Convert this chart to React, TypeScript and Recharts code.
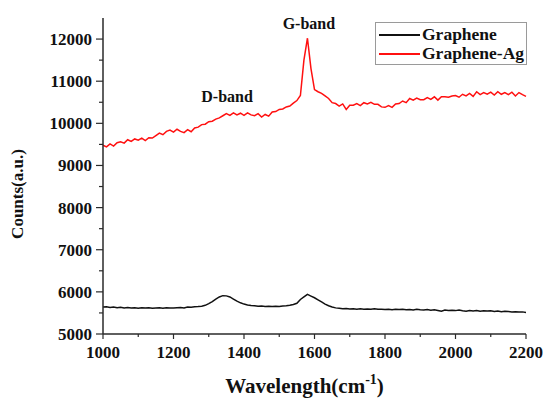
import React from "react";
import { LineChart, Line, XAxis, YAxis, Legend, ReferenceDot } from "recharts";

// Raman shift (cm-1), sampled every 10
const wavenumber = [
  1000, 1010, 1020, 1030, 1040, 1050, 1060, 1070, 1080, 1090,
  1100, 1110, 1120, 1130, 1140, 1150, 1160, 1170, 1180, 1190,
  1200, 1210, 1220, 1230, 1240, 1250, 1260, 1270, 1280, 1290,
  1300, 1310, 1320, 1330, 1340, 1350, 1360, 1370, 1380, 1390,
  1400, 1410, 1420, 1430, 1440, 1450, 1460, 1470, 1480, 1490,
  1500, 1510, 1520, 1530, 1540, 1550, 1560, 1570, 1580, 1590,
  1600, 1610, 1620, 1630, 1640, 1650, 1660, 1670, 1680, 1690,
  1700, 1710, 1720, 1730, 1740, 1750, 1760, 1770, 1780, 1790,
  1800, 1810, 1820, 1830, 1840, 1850, 1860, 1870, 1880, 1890,
  1900, 1910, 1920, 1930, 1940, 1950, 1960, 1970, 1980, 1990,
  2000, 2010, 2020, 2030, 2040, 2050, 2060, 2070, 2080, 2090,
  2100, 2110, 2120, 2130, 2140, 2150, 2160, 2170, 2180, 2190,
  2200,
];

const graphene = [
  5640, 5645, 5630, 5640, 5625, 5635, 5620, 5630, 5615, 5625,
  5610, 5625, 5615, 5620, 5610, 5615, 5620, 5610, 5625, 5620,
  5615, 5625, 5630, 5620, 5640, 5635, 5645, 5650, 5660, 5680,
  5720, 5770, 5830, 5880, 5910, 5905, 5880, 5830, 5780, 5740,
  5710, 5690, 5675, 5670, 5660, 5665, 5655, 5660, 5650, 5660,
  5655, 5665, 5670, 5680, 5700, 5730, 5820, 5880, 5940, 5900,
  5860, 5810, 5760, 5710, 5670, 5640, 5620, 5610, 5600, 5605,
  5595, 5600, 5590, 5600, 5590, 5595, 5585, 5600, 5585, 5590,
  5580, 5590, 5575, 5585, 5580, 5590, 5575, 5580, 5570, 5585,
  5575, 5570, 5580, 5565, 5575, 5560, 5540, 5570, 5560, 5565,
  5555, 5570, 5550, 5540, 5560, 5545, 5555, 5540, 5550, 5545,
  5550, 5535, 5545, 5530, 5540, 5535, 5525, 5530, 5520, 5525,
  5510,
];

const grapheneAg = [
  9480, 9440, 9510, 9460, 9540, 9560, 9530, 9610, 9570, 9630,
  9600, 9650, 9590, 9660, 9650, 9710, 9770, 9730, 9810, 9840,
  9790, 9860, 9810, 9780, 9850, 9800, 9890, 9910, 9970, 9980,
  10040, 10050, 10100, 10130, 10180, 10230, 10190, 10250, 10200, 10240,
  10190, 10250, 10200, 10180, 10230, 10150, 10210, 10170, 10270, 10280,
  10330, 10340, 10390, 10410, 10480, 10540, 10660, 11500, 12020, 11300,
  10800, 10750, 10710, 10650, 10590, 10490, 10470, 10410, 10460, 10330,
  10430, 10430, 10470, 10420, 10490, 10460, 10500, 10450, 10450, 10390,
  10380, 10420, 10380, 10460, 10470, 10530, 10490, 10590, 10550, 10600,
  10560, 10560, 10610, 10570, 10630, 10550, 10630, 10630, 10620, 10650,
  10660, 10620, 10690, 10650, 10710, 10640, 10750, 10680, 10730, 10690,
  10740, 10670, 10750, 10690, 10730, 10680, 10740, 10650, 10730, 10680,
  10640,
];

const xTicks = [1000, 1100, 1200, 1300, 1400, 1500, 1600, 1700, 1800, 1900, 2000, 2100, 2200];
const yTicks = [5000, 5500, 6000, 6500, 7000, 7500, 8000, 8500, 9000, 9500, 10000, 10500, 11000, 11500, 12000];

const data = wavenumber.map((w, i) => ({
  w,
  graphene: graphene[i],
  grapheneAg: grapheneAg[i],
}));

const FONT = "'Liberation Serif', 'Times New Roman', serif";
const AXIS = "#2a2a2a";
const txt = { fontFamily: FONT, fontWeight: 700 } as React.CSSProperties;

function XTick(props: any) {
  const { x, y, payload } = props;
  const major = payload.value % 200 === 0;
  return (
    <g>
      <line x1={x} x2={x} y1={y} y2={y + (major ? 5 : 3)} stroke={AXIS} strokeWidth={1.2} />
      {major && (
        <text x={x} y={y + 24} textAnchor="middle" style={{ ...txt, fontSize: 17 }} fill="#111">
          {payload.value}
        </text>
      )}
    </g>
  );
}

function YTick(props: any) {
  const { x, y, payload } = props;
  const major = payload.value % 1000 === 0;
  return (
    <g>
      <line x1={x - (major ? 7 : 4)} x2={x} y1={y} y2={y} stroke={AXIS} strokeWidth={1.2} />
      {major && (
        <text x={x - 11} y={y + 6} textAnchor="end" style={{ ...txt, fontSize: 17 }} fill="#111">
          {payload.value}
        </text>
      )}
    </g>
  );
}

function XTitle(props: any) {
  const { viewBox } = props;
  const cx = viewBox.x + viewBox.width / 2 - 10;
  return (
    <text x={cx} y={393} textAnchor="middle" style={{ ...txt, fontSize: 21 }} fill="#111">
      Wavelength(cm
      <tspan dy={-9} style={{ fontSize: 14 }}>-1</tspan>
      <tspan dy={9}>)</tspan>
    </text>
  );
}

function YTitle() {
  return (
    <text
      x={17}
      y={194}
      transform="rotate(-90 17 194)"
      textAnchor="middle"
      dominantBaseline="central"
      style={{ ...txt, fontSize: 17 }}
      fill="#111"
    >
      Counts(a.u.)
    </text>
  );
}

function LegendBox(props: any) {
  const { payload } = props;
  return (
    <div
      style={{
        width: 150,
        height: 39,
        border: "1px solid #9a9a9a",
        background: "#fff",
        fontFamily: FONT,
        fontWeight: "bold",
        fontSize: 17.5,
        color: "#111",
        paddingTop: 2,
      }}
    >
      {(payload || []).map((p: any) => (
        <div key={p.value} style={{ display: "flex", alignItems: "center", height: 19 }}>
          <span style={{ display: "inline-block", width: 41, height: 2, background: p.color, marginLeft: 3 }} />
          <span style={{ marginLeft: 2, lineHeight: "19px" }}>{p.value}</span>
        </div>
      ))}
    </div>
  );
}

export default function App() {
  return (
    <div style={{ position: "absolute", left: 0, top: 0, width: 546, height: 399, background: "#fff" }}>
      <LineChart width={546} height={399} data={data} margin={{ top: 18, right: 20, left: 0, bottom: 0 }}>
        <XAxis
          dataKey="w"
          type="number"
          domain={[1000, 2200]}
          ticks={xTicks}
          interval={0}
          height={65}
          tickSize={0}
          tickMargin={0}
          tickLine={false}
          tick={<XTick />}
          axisLine={{ stroke: AXIS, strokeWidth: 1.5 }}
          label={<XTitle />}
        />
        <YAxis
          type="number"
          domain={[5000, 12500]}
          ticks={yTicks}
          interval={0}
          width={103}
          tickSize={0}
          tickMargin={0}
          tickLine={false}
          tick={<YTick />}
          axisLine={{ stroke: AXIS, strokeWidth: 1.5 }}
          label={<YTitle />}
        />
        <Legend
          layout="horizontal"
          align="center"
          verticalAlign="middle"
          content={<LegendBox />}
          wrapperStyle={{ position: "absolute", left: 375, top: 22, width: 152 }}
        />
        <Line
          type="linear"
          dataKey="graphene"
          name="Graphene"
          stroke="#111111"
          strokeWidth={1.5}
          dot={false}
          isAnimationActive={false}
        />
        <Line
          type="linear"
          dataKey="grapheneAg"
          name="Graphene-Ag"
          stroke="#ff1010"
          strokeWidth={1.5}
          dot={false}
          isAnimationActive={false}
        />
        <ReferenceDot
          x={1352}
          y={10650}
          r={0}
          fill="none"
          stroke="none"
          label={{ value: "D-band", position: "center", style: { ...txt, fontSize: 16 }, fill: "#111" }}
        />
        <ReferenceDot
          x={1584}
          y={12380}
          r={0}
          fill="none"
          stroke="none"
          label={{ value: "G-band", position: "center", style: { ...txt, fontSize: 16 }, fill: "#111" }}
        />
      </LineChart>
    </div>
  );
}
